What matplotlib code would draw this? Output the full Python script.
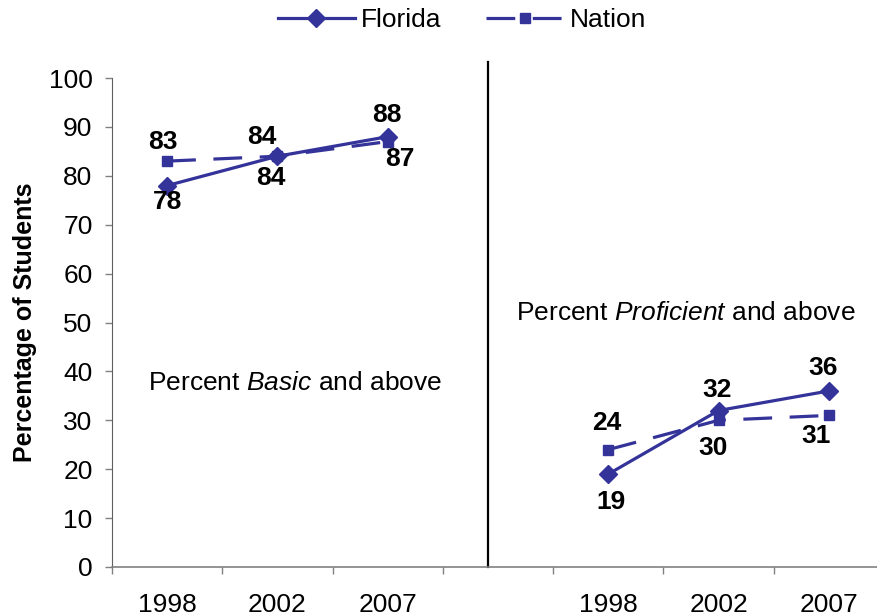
import numpy as np
import matplotlib
matplotlib.use("Agg")
import matplotlib.pyplot as plt

plt.rcParams['font.family'] = ['Liberation Sans', 'DejaVu Sans']
plt.rcParams['mathtext.fontset'] = 'custom'
plt.rcParams['mathtext.rm'] = 'Liberation Sans'
plt.rcParams['mathtext.it'] = 'Liberation Sans:italic'

# ---- data ----
categories = ['1998', '2002', '2007', '', '1998', '2002', '2007']
florida = [78, 84, 88, np.nan, 19, 32, 36]
nation = [83, 84, 87, np.nan, 24, 30, 31]
yticks = [0, 10, 20, 30, 40, 50, 60, 70, 80, 90, 100]

# label offsets in pixels (dx, dy) relative to the point
fl_off = [(0, -16), (-7, -22), (-1, 22), None, (3, -28), (-2, 21), (-6, 23)]
na_off = [(-4, 19), (-16, 19), (12, -17), None, (-2, 27), (-6, -28), (-13, -21)]

color = '#333399'
fs = 19
px2pt = 72 / 100

fig = plt.figure(figsize=(8.78, 6.16), dpi=100)
ax = fig.add_axes([112 / 878, 1 - 567 / 616, 772 / 878, 489 / 616])

x = np.arange(len(categories))
ax.plot(x, florida, color=color, lw=2.3, marker='D', ms=9, label='Florida')
ax.plot(x, nation, color=color, lw=2.3, marker='s', ms=7.5, linestyle=(0, (9, 5.5)),
        label='Nation')

for xi, v, off in zip(x, florida, fl_off):
    if off is None:
        continue
    ax.annotate(f"{v:.0f}", (xi, v), xytext=(off[0] * px2pt, off[1] * px2pt),
                textcoords='offset points', ha='center', va='center',
                fontsize=fs, fontweight='bold')
for xi, v, off in zip(x, nation, na_off):
    if off is None:
        continue
    ax.annotate(f"{v:.0f}", (xi, v), xytext=(off[0] * px2pt, off[1] * px2pt),
                textcoords='offset points', ha='center', va='center',
                fontsize=fs, fontweight='bold')

ax.set_xlim(-0.5, len(categories) - 0.5)
ax.set_ylim(0, 100)
ax.set_yticks(yticks)
ax.set_xticks(x)
ax.set_xticklabels(categories)
ax.set_xticks(np.arange(-0.5, len(categories), 1.0), minor=True)
ax.tick_params(axis='x', which='major', length=0, pad=19, labelsize=fs)
ax.tick_params(axis='x', which='minor', length=5, color='#808080', width=1, direction='out')
ax.tick_params(axis='y', length=5, color='#808080', width=1, pad=9, labelsize=fs)

for s in ['top', 'right']:
    ax.spines[s].set_visible(False)
ax.spines['left'].set_color('#606060')
ax.spines['bottom'].set_color('#808080')
ax.spines['bottom'].set_linewidth(1.2)

ax.set_ylabel('Percentage of Students', fontsize=18, fontweight='bold')
ax.yaxis.set_label_coords(-0.097, 0.5)

# separator line
ax.plot([2.91, 2.91], [0, 103.3], color='black', lw=1.6, clip_on=False)

ax.text(1.16, 37.6, r'Percent $\mathit{Basic}$ and above', ha='center', va='center', fontsize=fs)
ax.text(4.70, 51.9, r'Percent $\mathit{Proficient}$ and above', ha='center', va='center', fontsize=fs)

fig.legend(loc='center', bbox_to_anchor=(462 / 878, 1 - 20 / 616), ncol=2, frameon=False,
           fontsize=fs, handlelength=2.9, handletextpad=0.25, columnspacing=1.7)

fig.savefig('out.png', dpi=100)
